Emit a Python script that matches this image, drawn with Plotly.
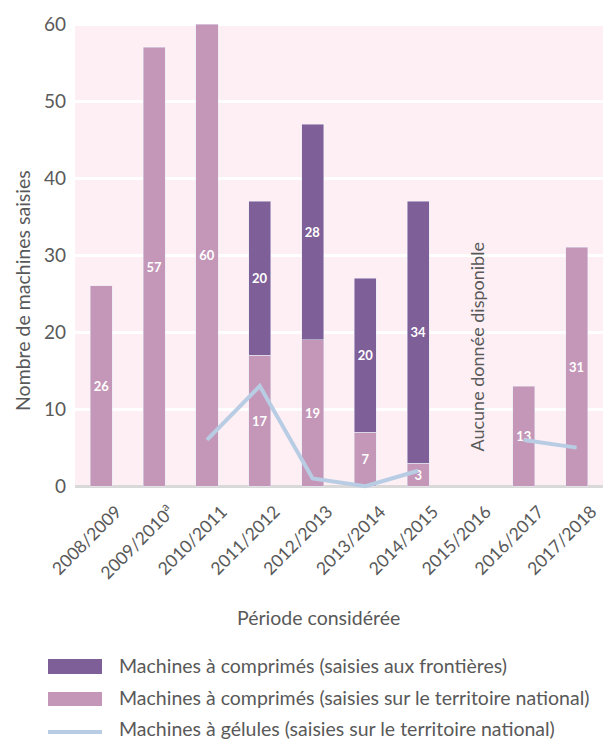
import plotly.graph_objects as go

periods = ["2008/2009", "2009/2010<sup>a</sup>", "2010/2011", "2011/2012", "2012/2013",
           "2013/2014", "2014/2015", "2015/2016", "2016/2017", "2017/2018"]
frontieres = [None, None, None, 20, 28, 20, 34, None, None, None]
national = [26, 57, 60, 17, 19, 7, 3, None, 13, 31]
gelules = [None, None, 6, 13, 1, 0, 2, None, 6, 5]

legend_names = ["Machines à comprimés (saisies aux frontières)",
                "Machines à comprimés (saisies sur le territoire national)",
                "Machines à gélules (saisies sur le territoire national)"]

C_DARK = "#7f5f98"
C_LIGHT = "#c497b8"
C_LINE = "#b8cde4"
C_BG = "#fdeff4"
C_TXT = "#595959"
FONT = "Lato"

W, H = 603, 742
L, R, T, B = 75, 0, 21, 252
PW, PH = W - L - R, H - T - B


def px(x):
    return (x - L) / PW


def py(y):
    return (H - B - y) / PH


fig = go.Figure()
fig.add_trace(go.Bar(x=periods, y=national, name=legend_names[1], marker_color=C_LIGHT,
                     text=national, textposition="inside", insidetextanchor="middle",
                     textfont=dict(color="white", size=13, family=FONT, weight="bold"),
                     showlegend=False))
fig.add_trace(go.Bar(x=periods, y=frontieres, name=legend_names[0], marker_color=C_DARK,
                     text=frontieres, textposition="inside", insidetextanchor="middle",
                     textfont=dict(color="white", size=13, family=FONT, weight="bold"),
                     showlegend=False))
fig.add_trace(go.Scatter(x=periods, y=gelules, mode="lines", name=legend_names[2],
                         line=dict(color=C_LINE, width=4), connectgaps=False,
                         showlegend=False))

shapes = [dict(type="rect", xref="paper", yref="y", x0=0, x1=1, y0=0, y1=60,
               fillcolor=C_BG, line=dict(width=0), layer="below")]
annotations = []

# legend (manual)
leg_y = [665, 697, 729]
shapes.append(dict(type="rect", xref="paper", yref="paper", x0=px(48), x1=px(102),
                   y0=py(674), y1=py(659), fillcolor=C_DARK, line=dict(width=0)))
shapes.append(dict(type="rect", xref="paper", yref="paper", x0=px(48), x1=px(102),
                   y0=py(706), y1=py(692), fillcolor=C_LIGHT, line=dict(width=0)))
shapes.append(dict(type="line", xref="paper", yref="paper", x0=px(48), x1=px(102),
                   y0=py(732), y1=py(732), line=dict(color=C_LINE, width=4)))
for name, yy in zip(legend_names, leg_y):
    annotations.append(dict(text=name, xref="paper", yref="paper", x=px(117), y=py(yy),
                            xanchor="left", yanchor="middle", showarrow=False,
                            font=dict(size=19.5, color=C_TXT, family=FONT)))

annotations.append(dict(text="Aucune donnée disponible", x=periods[7], y=18, xref="x", yref="y",
                        textangle=-90, showarrow=False, xshift=6,
                        font=dict(size=18, color=C_TXT, family=FONT)))
annotations.append(dict(text="Période considérée", xref="paper", yref="paper",
                        x=px(318), y=py(617), xanchor="center", yanchor="middle",
                        showarrow=False, font=dict(size=19.5, color=C_TXT, family=FONT)))
annotations.append(dict(text="Nombre de machines saisies", xref="paper", yref="paper",
                        x=px(22), y=py(291), xanchor="center", yanchor="middle",
                        textangle=-90, showarrow=False,
                        font=dict(size=19.5, color=C_TXT, family=FONT)))

fig.update_layout(
    width=W, height=H,
    margin=dict(l=L, r=R, t=T, b=B),
    barmode="stack", bargap=0.58,
    plot_bgcolor="white", paper_bgcolor="white",
    font=dict(family=FONT, color=C_TXT),
    shapes=shapes, annotations=annotations,
    showlegend=False,
)
fig.update_xaxes(tickangle=-45, tickfont=dict(size=17.5, color=C_TXT, family=FONT),
                 showgrid=False, showline=False, ticks="", range=[-0.5, 9.5],
                 ticklabelshift=15, ticklabelstandoff=7)
fig.update_yaxes(range=[-0.5, 60.4], tickvals=[0, 10, 20, 30, 40, 50, 60],
                 tickfont=dict(size=19, color=C_TXT, family=FONT),
                 showgrid=True, gridcolor="white", gridwidth=3,
                 zeroline=True, zerolinecolor="#d9d9d9", zerolinewidth=3,
                 ticks="", ticklabelstandoff=8)

fig.write_html("out.html")
